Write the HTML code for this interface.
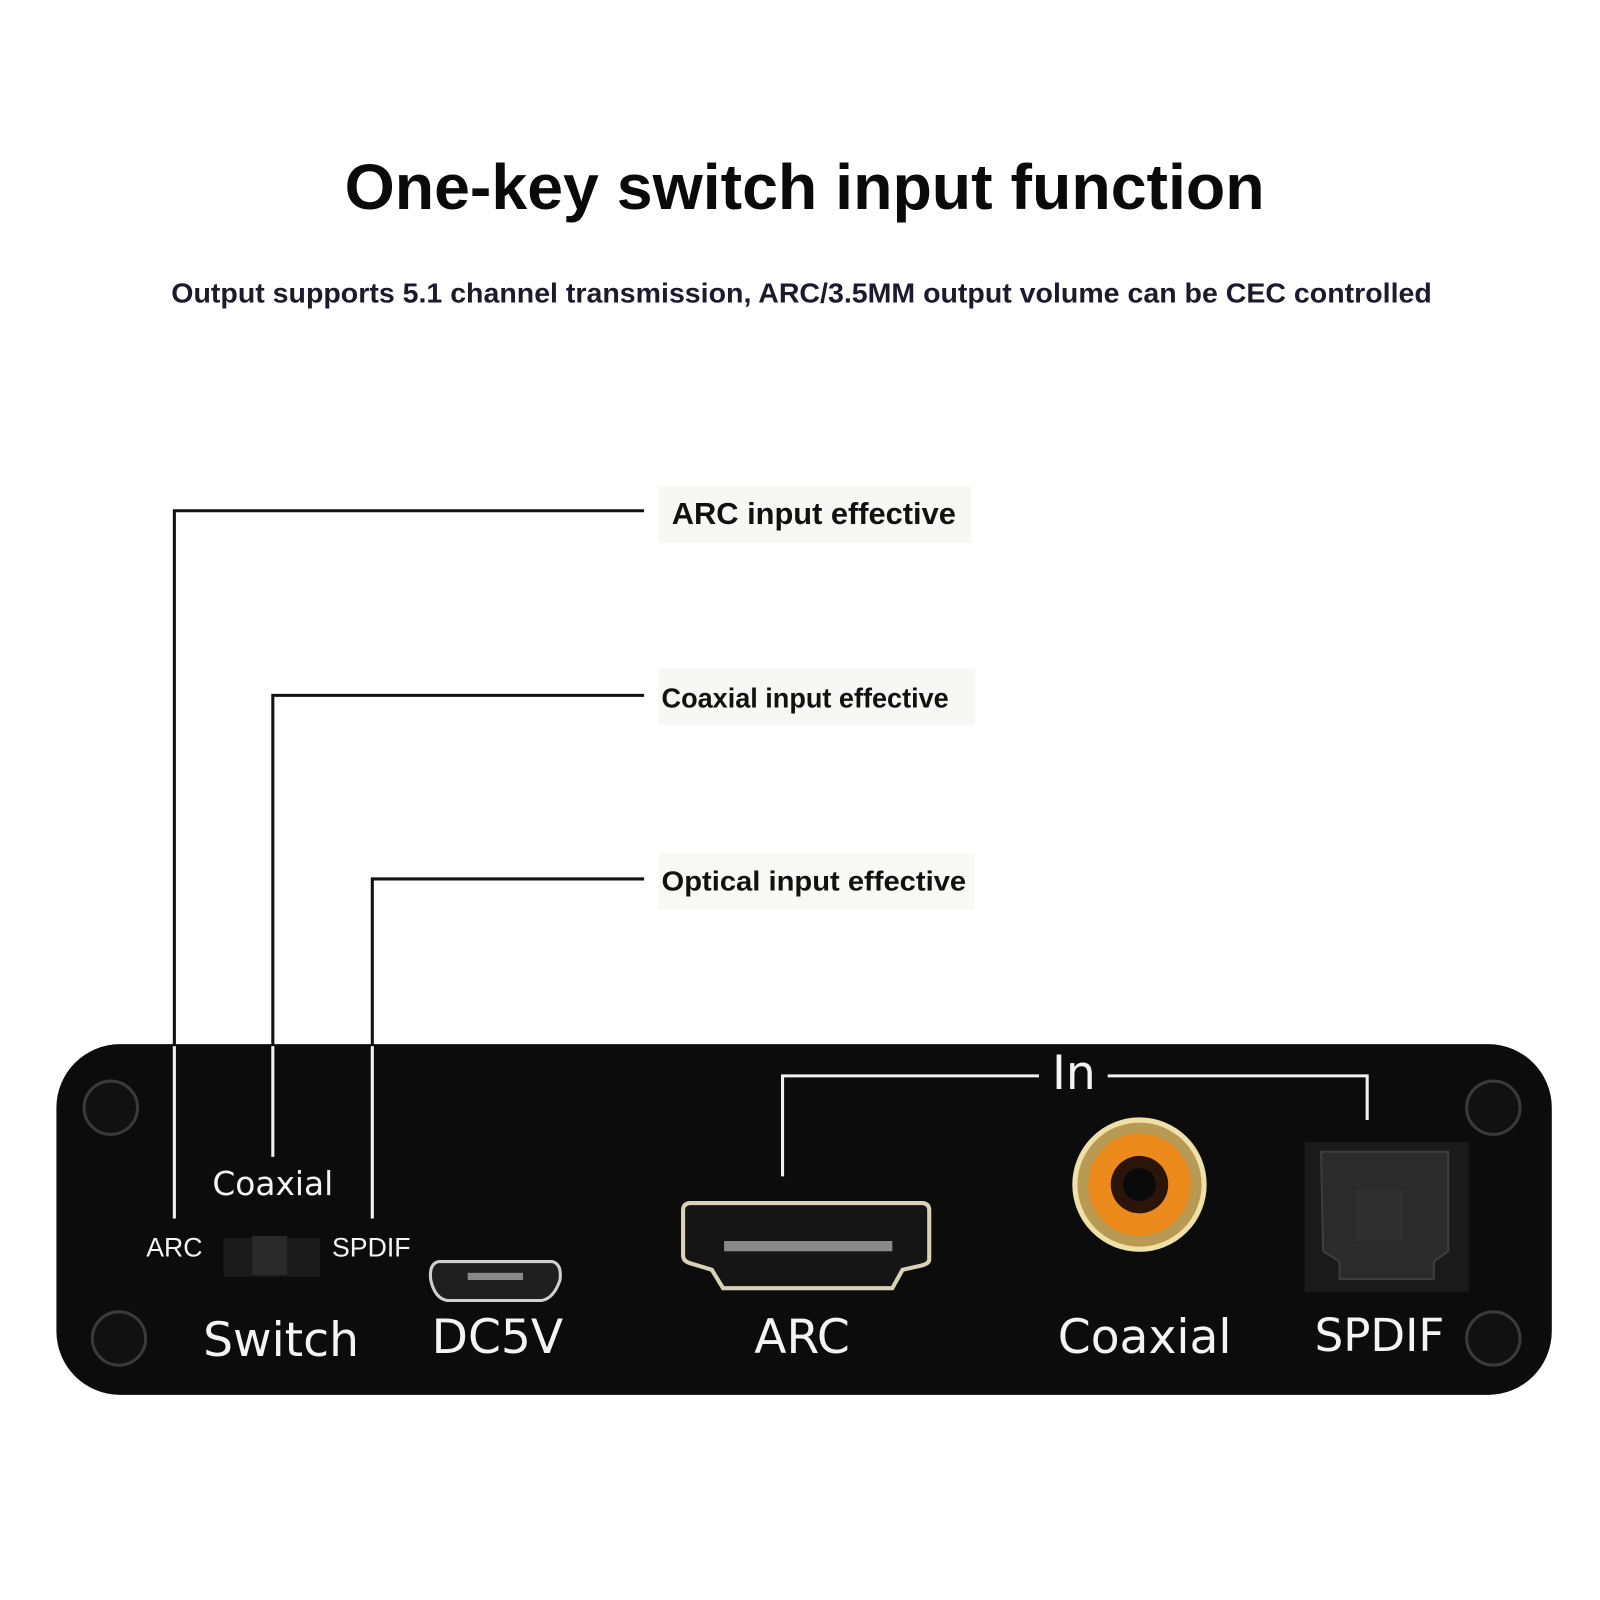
<!DOCTYPE html>
<html><head><meta charset="utf-8"><style>
html,body{margin:0;padding:0;background:#fff;}
#wrap{width:1600px;height:1600px;overflow:hidden;position:relative;background:#fff;}
#frame{position:absolute;left:0;top:0;width:1560px;height:1560px;transform:scale(1.02564);transform-origin:0 0;}
</style></head><body><div id="wrap"><div id="frame">
<svg width="1560" height="1560" viewBox="0 0 1560 1560" xmlns="http://www.w3.org/2000/svg">
<rect width="1560" height="1560" fill="#fff"/>
<text x="336" y="204" font-family="Liberation Sans, sans-serif" font-weight="bold" font-size="62" fill="#0a0a0a" textLength="897" lengthAdjust="spacingAndGlyphs">One-key switch input function</text>
<text x="167" y="295" font-family="Liberation Sans, sans-serif" font-weight="bold" font-size="27" fill="#1d1a2e" textLength="1229" lengthAdjust="spacingAndGlyphs">Output supports 5.1 channel transmission, ARC/3.5MM output volume can be CEC controlled</text>
<rect x="642" y="474" width="305" height="55" fill="#f7f7f5"/>
<rect x="642" y="652" width="308" height="55" fill="#f7f7f5"/>
<rect x="642" y="832" width="308" height="55" fill="#f8f8f6"/>
<g stroke="#111" stroke-width="3" fill="none">
<polyline points="628,498 170,498 170,1020"/>
<polyline points="628,678 266,678 266,1020"/>
<polyline points="628,857 363,857 363,1020"/>
</g>
<g font-family="Liberation Sans, sans-serif" font-weight="bold" fill="#111">
<text x="655" y="511" font-size="30" textLength="277" lengthAdjust="spacingAndGlyphs">ARC input effective</text>
<text x="645" y="690" font-size="27" textLength="280" lengthAdjust="spacingAndGlyphs">Coaxial input effective</text>
<text x="645" y="868" font-size="27" textLength="297" lengthAdjust="spacingAndGlyphs">Optical input effective</text>
</g>
<rect x="55" y="1018" width="1458" height="342" rx="62" fill="#0c0c0c"/>
<g fill="#111" stroke="#3a3a3a" stroke-width="3">
<circle cx="108" cy="1080" r="26"/><circle cx="116" cy="1305" r="26"/>
<circle cx="1456" cy="1080" r="26"/><circle cx="1456" cy="1305" r="26"/>
</g>
<g stroke="#f2f2f2" stroke-width="3" fill="none">
<line x1="170" y1="1020" x2="170" y2="1188"/>
<line x1="266" y1="1020" x2="266" y2="1128"/>
<line x1="363" y1="1020" x2="363" y2="1188"/>
<polyline points="763,1147 763,1049 1013,1049"/>
<polyline points="1080,1049 1333,1049 1333,1092"/>
</g>
<g font-family="DejaVu Sans, sans-serif" fill="#f4f4f4">
<text x="266" y="1165" text-anchor="middle" font-size="32">Coaxial</text>
<text x="170" y="1225" text-anchor="middle" font-size="26" font-family="Liberation Sans, sans-serif">ARC</text>
<text x="362" y="1225" text-anchor="middle" font-size="26" font-family="Liberation Sans, sans-serif">SPDIF</text>
<text x="274" y="1322" text-anchor="middle" font-size="46">Switch</text>
<text x="485" y="1319" text-anchor="middle" font-size="46">DC5V</text>
<text x="782" y="1319" text-anchor="middle" font-size="46">ARC</text>
<text x="1116" y="1319" text-anchor="middle" font-size="46">Coaxial</text>
<text x="1345" y="1317" text-anchor="middle" font-size="44">SPDIF</text>
<text x="1047" y="1062" text-anchor="middle" font-size="46">In</text>
</g>
<rect x="218" y="1207" width="94" height="38" fill="#1a1a1a"/>
<rect x="246" y="1205" width="34" height="38" fill="#2a2a2a"/>
<path d="M428,1230 H538 Q548,1232 546,1248 Q540,1266 528,1268 H436 Q424,1266 420,1248 Q418,1232 428,1230Z" fill="#1e1e1e" stroke="#cfcfcf" stroke-width="3"/>
<rect x="456" y="1241" width="54" height="7" fill="#888"/>
<path d="M672,1173 H900 Q906,1174 906,1180 V1228 Q906,1232 898,1234 L880,1238 L870,1256 H705 L694,1238 L674,1232 Q666,1230 666,1224 V1180 Q666,1174 672,1173Z" fill="#151515" stroke="#d9d2b8" stroke-width="4"/>
<rect x="706" y="1210" width="164" height="10" fill="#8a8a8a"/>
<circle cx="1111" cy="1155" r="66" fill="#111"/>
<circle cx="1111" cy="1155" r="63" fill="#b89a52" stroke="#efe0a8" stroke-width="5"/>
<circle cx="1111" cy="1155" r="50" fill="#ec8a1c"/>
<circle cx="1111" cy="1155" r="28" fill="#2a1508"/>
<circle cx="1111" cy="1155" r="16" fill="#0a0a0a"/>
<rect x="1272" y="1113" width="160" height="147" fill="#1a1a1a"/>
<path d="M1288,1123 H1412 V1220 L1398,1230 V1247 H1306 V1230 L1290,1220 Z" fill="#2b2b2b" stroke="#3d3d3d" stroke-width="2"/>
<rect x="1322" y="1160" width="46" height="50" fill="#303030"/>
</svg>
</div></div></body></html>
